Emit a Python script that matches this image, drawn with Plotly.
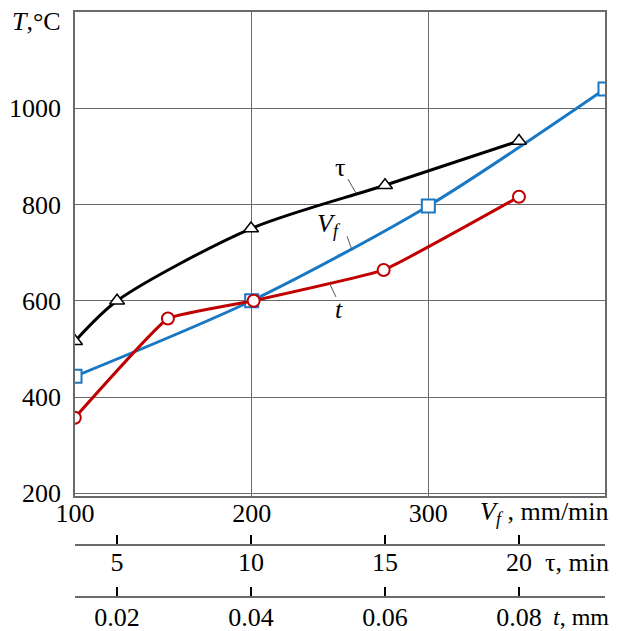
import plotly.graph_objects as go

# ---- data ----
vf_vals = [100, 200, 300, 400]            # feed speed Vf, mm/min
vf_temp = [443, 600, 797, 1040]

tau_vals = [3.43, 5, 10, 15, 20]          # time tau, min
tau_temp = [516, 600, 750, 840, 932]

t_vals = [0.0137, 0.0276, 0.0404, 0.0598, 0.08]   # depth t, mm
t_temp = [357, 563, 600, 664, 816]

y_ticks = [200, 400, 600, 800, 1000]
vf_ticks = [100, 200, 300]
tau_ticks = [5, 10, 15, 20]
t_ticks = [0.02, 0.04, 0.06, 0.08]
t_ticktext = ["0.02", "0.04", "0.06", "0.08"]

FONT = "Liberation Serif, Times New Roman, serif"
FS = 26
GRID = "#6a6a6a"
BLUE = "#1878c4"
RED = "#c00000"

fig = go.Figure()

fig.add_trace(go.Scatter(
    x=tau_vals, y=tau_temp, xaxis="x2", yaxis="y", mode="lines+markers",
    line=dict(color="black", width=3, shape="spline", smoothing=0.8),
    marker=dict(symbol="triangle-up", size=13, color="white",
                line=dict(color="black", width=1.5)),
    showlegend=False))

fig.add_trace(go.Scatter(
    x=t_vals, y=t_temp, xaxis="x3", yaxis="y", mode="lines+markers",
    line=dict(color=RED, width=3, shape="spline", smoothing=0.3),
    marker=dict(symbol="circle", size=12, color="white",
                line=dict(color=RED, width=2)),
    showlegend=False))

fig.add_trace(go.Scatter(
    x=vf_vals, y=vf_temp, xaxis="x", yaxis="y", mode="lines+markers",
    line=dict(color=BLUE, width=3, shape="spline", smoothing=0.8),
    marker=dict(symbol="square", size=13, color="white",
                line=dict(color=BLUE, width=2)),
    showlegend=False))

tickfont = dict(family=FONT, size=FS, color="black")

fig.update_layout(
    width=615, height=623,
    margin=dict(l=67, r=18, t=4, b=30, autoexpand=False),
    paper_bgcolor="white", plot_bgcolor="white",
    font=dict(family=FONT, size=FS, color="black"),
    xaxis=dict(range=[100, 400], tickvals=vf_ticks, tickfont=tickfont,
               automargin=False,
               showgrid=True, gridcolor=GRID, gridwidth=1.2,
               showline=True, linecolor=GRID, linewidth=1.5, mirror=True,
               zeroline=False, ticks="", ticklabelstandoff=-7),
    xaxis2=dict(overlaying="x", anchor="free", position=0.095, side="bottom",
                automargin=False,
                range=[3.43, 23.21], tickvals=tau_ticks, tickfont=tickfont,
                showgrid=False, zeroline=False, showline=True,
                linecolor=GRID, linewidth=1.5, ticks="inside", ticklen=9,
                tickcolor="black", tickwidth=1.5, ticklabelstandoff=-6),
    xaxis3=dict(overlaying="x", anchor="free", position=0.0068, side="bottom",
                automargin=False,
                range=[0.01373, 0.09284], tickvals=t_ticks, ticktext=t_ticktext,
                tickfont=tickfont, showgrid=False, zeroline=False,
                showline=True, linecolor=GRID, linewidth=1.5, ticks="inside",
                ticklen=9, tickcolor="black", tickwidth=1.5,
                ticklabelstandoff=-3),
    yaxis=dict(domain=[0.178, 1], range=[194, 1200], tickvals=y_ticks,
               automargin=False,
               tickfont=tickfont, showgrid=True, gridcolor=GRID, gridwidth=1.2,
               showline=True, linecolor=GRID, linewidth=1.5, mirror=True,
               zeroline=False, ticks="outside", ticklen=7,
               tickcolor="rgba(0,0,0,0)"),
)

ann = []
ann.append(dict(xref="paper", yref="paper", x=0, y=1, xshift=-12, yshift=-9,
                xanchor="right", yanchor="middle", showarrow=False,
                text="<i>T</i>,°C", font=dict(family=FONT, size=FS)))
ann.append(dict(xref="paper", yref="paper", x=1, y=0.15, xshift=6,
                xanchor="right", yanchor="middle", showarrow=False,
                text="<i>V<sub>f</sub></i> , mm/min", font=dict(family=FONT, size=FS)))
ann.append(dict(xref="paper", yref="paper", x=1, y=0.066, xshift=6,
                xanchor="right", yanchor="middle", showarrow=False,
                text="τ, min", font=dict(family=FONT, size=FS)))
ann.append(dict(xref="paper", yref="paper", x=1, y=-0.027, xshift=6,
                xanchor="right", yanchor="middle", showarrow=False,
                text="<i>t</i>, mm", font=dict(family=FONT, size=24)))
# curve labels
ann.append(dict(xref="x", yref="y", x=250, y=876, showarrow=False,
                text="τ", font=dict(family=FONT, size=FS)))
ann.append(dict(xref="x", yref="y", x=244, y=757, showarrow=False,
                text="<i>V<sub>f</sub></i>", font=dict(family=FONT, size=FS)))
ann.append(dict(xref="x", yref="y", x=249.4, y=581, showarrow=False,
                text="<i>t</i>", font=dict(family=FONT, size=FS)))
fig.update_layout(annotations=ann)

leaders = [((254.5, 853), (259, 824)),
           ((254, 734), (256.8, 705)),
           ((243.7, 639), (247.7, 608))]
for (x0, y0), (x1, y1) in leaders:
    fig.add_shape(type="line", xref="x", yref="y", x0=x0, y0=y0, x1=x1, y1=y1,
                  line=dict(color="#555555", width=1))

fig.write_html("out.html")
